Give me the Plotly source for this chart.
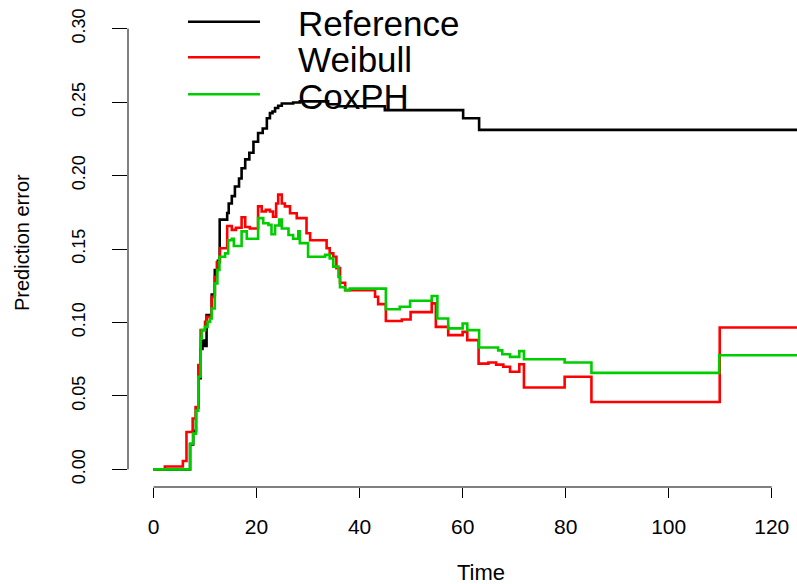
import plotly.graph_objects as go

# ---------------- data ----------------
ref_time = [0, 7.1, 7.7, 8.25, 8.7, 9.15, 9.5, 9.9, 10.3, 11.3, 11.9, 12.5, 12.85,
            14.3, 14.6, 15.2, 15.8, 16.6, 17.1, 17.8, 18.6, 19.4, 20.3, 21.2, 22.0,
            22.6, 23.1, 23.6, 24.2, 24.9, 27.1, 28.4, 33.9, 35.9, 44.9, 60.1, 63.2, 125]
ref_err = [0, 0.017, 0.026, 0.042, 0.062, 0.082, 0.0876, 0.084, 0.105, 0.119, 0.1357,
           0.142, 0.170, 0.1745, 0.181, 0.186, 0.1925, 0.198, 0.205, 0.211, 0.2155,
           0.223, 0.229, 0.232, 0.239, 0.2425, 0.2436, 0.246, 0.2475, 0.249, 0.2497,
           0.2505, 0.2485, 0.2472, 0.2445, 0.239, 0.2311, 0.2311]

weib_time = [0, 2.2, 5.7, 6.4, 7.6, 8.2, 8.7, 9.15, 10.0, 10.4,
             11.3, 11.9, 12.3, 12.9, 14.3, 15.2, 16.0, 17.1, 17.8, 18.7,
             20.3, 21.0, 21.8, 22.6, 23.2, 23.8, 24.2, 24.9, 25.5, 26.5,
             27.8, 29.7, 30.4, 33.6, 34.2, 34.9, 35.5, 36.2, 37.2, 43.0,
             43.6, 45.1, 48.2, 49.9, 54.0, 54.8, 57.2, 60.0, 60.9, 63.1,
             65.0, 66.5, 67.9, 69.2, 71.0, 71.9, 79.8, 85.0, 109.9, 125]
weib_err = [0, 0.002, 0.0057, 0.0254, 0.0346, 0.0425, 0.071, 0.0948, 0.1004, 0.1038,
            0.1175, 0.131, 0.141, 0.1505, 0.1657, 0.163, 0.1645, 0.1716, 0.165, 0.164,
            0.179, 0.1755, 0.1766, 0.1755, 0.172, 0.181, 0.187, 0.181, 0.179, 0.1743,
            0.171, 0.1607, 0.156, 0.1505, 0.147, 0.1447, 0.137, 0.127, 0.122, 0.1175,
            0.1125, 0.101, 0.102, 0.107, 0.113, 0.097, 0.0914, 0.0936, 0.088, 0.072,
            0.0727, 0.0713, 0.0698, 0.0664, 0.0716, 0.0557, 0.063, 0.0459, 0.0966, 0.0966]

cox_time = [0, 7.1, 7.7, 8.25, 8.7, 9.15, 9.35, 10.0, 10.5, 11.0,
            11.3, 11.9, 12.4, 12.8, 13.9, 14.5, 15.2, 15.6, 17.1, 18.1,
            20.3, 21.3, 22.3, 22.9, 23.6, 24.4, 24.9, 26.2, 27.1, 28.1,
            28.4, 30.0, 33.3, 34.2, 34.9, 35.9, 36.2, 37.2, 38.1, 45.1,
            47.8, 49.8, 54.0, 55.1, 57.2, 60.0, 60.9, 63.2, 66.9, 67.7,
            69.2, 71.0, 71.9, 79.8, 85.0, 109.8, 125]
cox_err = [0, 0.0175, 0.0243, 0.040, 0.063, 0.089, 0.0948, 0.097, 0.1004, 0.1027,
           0.1095, 0.1266, 0.1357, 0.1447, 0.147, 0.156, 0.157, 0.152, 0.162, 0.157,
           0.171, 0.1675, 0.1664, 0.160, 0.166, 0.170, 0.164, 0.1595, 0.157, 0.162,
           0.154, 0.1447, 0.146, 0.1436, 0.138, 0.131, 0.124, 0.122, 0.123, 0.109,
           0.1107, 0.1148, 0.118, 0.1027, 0.096, 0.0993, 0.0948, 0.083, 0.081, 0.0784,
           0.0766, 0.0805, 0.075, 0.0727, 0.0657, 0.0777, 0.0777]

series_names = ["Reference", "Weibull", "CoxPH"]
series_colors = ["#000000", "#FF0000", "#00CD00"]
x_ticks = [0, 20, 40, 60, 80, 100, 120]
y_ticks = [0.00, 0.05, 0.10, 0.15, 0.20, 0.25, 0.30]
y_tick_text = ["0.00", "0.05", "0.10", "0.15", "0.20", "0.25", "0.30"]

# ---------------- layout geometry ----------------
W, H = 797, 584
ML, MR, MT, MB = 128, 0, 11, 97
PW, PH = W - ML - MR, H - MT - MB
FONT = "Liberation Sans, Arial, Helvetica, sans-serif"


def fx(px):
    return (px - ML) / PW


def fy(py):
    return (MT + PH - py) / PH


fig = go.Figure()
for t, v, name, col in zip([ref_time, weib_time, cox_time],
                           [ref_err, weib_err, cox_err],
                           series_names, series_colors):
    fig.add_trace(go.Scatter(x=t, y=v, mode="lines", name=name,
                             line=dict(color=col, width=2.6, shape="hv"),
                             showlegend=False))

shapes = [
    # R-style axis lines spanning only the tick range
    dict(type="line", xref="x", yref="paper", x0=x_ticks[0], x1=x_ticks[-1], y0=0, y1=0,
         line=dict(color="black", width=1)),
    dict(type="line", xref="paper", yref="y", x0=0, x1=0, y0=y_ticks[0], y1=y_ticks[-1],
         line=dict(color="black", width=1)),
]
annotations = []
legend_line_y = [21.7, 57.3, 94.3]
legend_text_y = [23, 60, 96]
for name, col, ly, ty in zip(series_names, series_colors, legend_line_y, legend_text_y):
    shapes.append(dict(type="line", xref="paper", yref="paper",
                       x0=fx(188), x1=fx(260), y0=fy(ly), y1=fy(ly),
                       line=dict(color=col, width=2.6)))
    annotations.append(dict(text=name, xref="paper", yref="paper", x=fx(296), y=fy(ty),
                            xanchor="left", yanchor="middle", showarrow=False,
                            font=dict(family=FONT, size=35, color="black")))

annotations.append(dict(text="Time", xref="paper", yref="paper", x=fx(481), y=fy(572),
                        xanchor="center", yanchor="middle", showarrow=False,
                        font=dict(family=FONT, size=22, color="black")))
annotations.append(dict(text="Prediction error", xref="paper", yref="paper", x=fx(22), y=fy(243),
                        xanchor="center", yanchor="middle", showarrow=False, textangle=-90,
                        font=dict(family=FONT, size=20, color="black")))

fig.update_layout(
    width=W, height=H,
    margin=dict(l=ML, r=MR, t=MT, b=MB, pad=0),
    plot_bgcolor="white", paper_bgcolor="white",
    font=dict(family=FONT, color="black"),
    shapes=shapes, annotations=annotations,
    xaxis=dict(range=[-4.95, 124.9], tickvals=x_ticks, ticks="outside", ticklen=10,
               tickwidth=1, tickcolor="black", showgrid=False, zeroline=False,
               showline=False, tickfont=dict(size=21, family=FONT), ticklabelstandoff=11),
    yaxis=dict(range=[-0.012, 0.312], tickvals=y_ticks, ticktext=y_tick_text,
               ticks="outside", ticklen=15, tickwidth=1, tickcolor="black",
               showgrid=False, zeroline=False, showline=False, tickangle=-90,
               tickfont=dict(size=18, family=FONT), ticklabelstandoff=20),
)

fig.write_html("out.html", config={"displayModeBar": False},
               post_script="document.body.style.margin='0px';"
                           "document.body.style.overflow='hidden';")
